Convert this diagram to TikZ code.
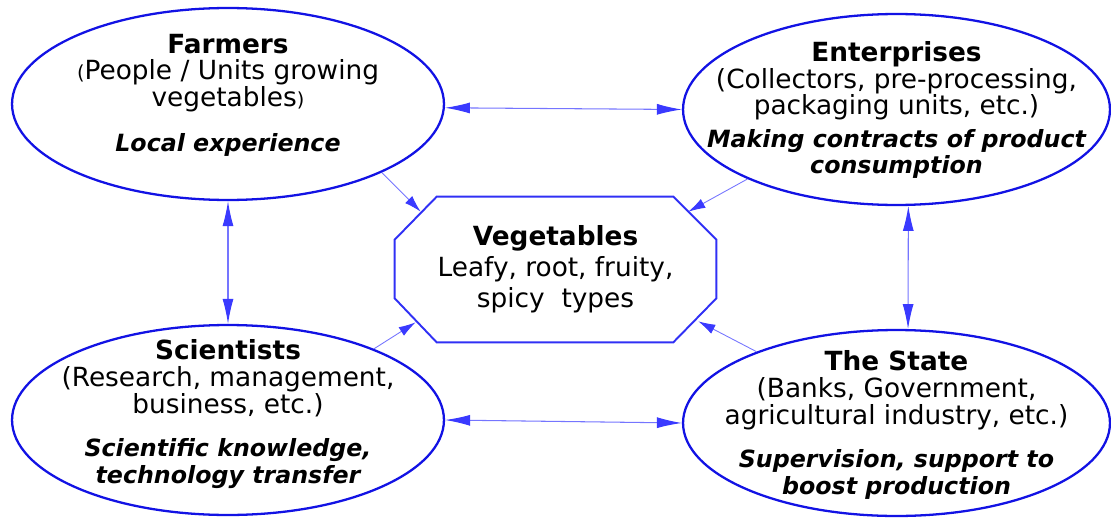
\documentclass[tikz,border=0pt]{standalone}
\usepackage{fontspec}
\setmainfont{DejaVu Sans}
\usepackage{tikz}
\usetikzlibrary{arrows.meta,positioning,calc,shapes.geometric}
\definecolor{rim}{HTML}{1212E4}
\definecolor{oc}{HTML}{3030F5}
\definecolor{lk}{HTML}{3A3AFF}
\newcommand{\Hd}[1]{\textbf{#1}}
\newcommand{\Em}[1]{{\fontsize{13.5}{14.5}\selectfont\bfseries\itshape #1}}
\newcommand{\Sp}[1]{{\fontsize{11}{11}\selectfont #1}}

\begin{document}
\begin{tikzpicture}[x=0.02cm,y=-0.02cm,
  actor/.style={ellipse,draw=rim,line width=1.3pt,inner sep=0pt},
  body/.style={align=center,font=\fontsize{15}{15.3}\selectfont,inner sep=0pt},
  link/.style={draw=lk!70,line width=0.6pt,
    {Latex[length=0.5cm,width=0.22cm,color=lk]}-{Latex[length=0.5cm,width=0.22cm,color=lk]}},
  feed/.style={draw=lk!70,line width=0.5pt,-{Latex[length=0.34cm,width=0.2cm,color=lk]}}]
  \useasboundingbox (0,0) rectangle (1111,517);

  % the four actors
  \node[actor,minimum width=8.64cm,minimum height=3.84cm] (farm) at (228,104) {};
  \node[actor,minimum width=8.54cm,minimum height=3.82cm] (ent) at (896.5,109.5) {};
  \node[actor,minimum width=8.64cm,minimum height=3.8cm] (sci) at (228,420) {};
  \node[actor,minimum width=8.54cm,minimum height=3.72cm] (state) at (896.5,423) {};

  \node[body] (farm-t) at (228,95) {\Hd{Farmers}\\\Sp{(}People / Units growing\\vegetables\Sp{)}\\[10pt]\Em{Local experience}};
  \node[body] (ent-t) at (896.5,110) {\Hd{Enterprises}\\(Collectors, pre-processing,\\packaging units, etc.)\\[3pt]\Em{Making contracts of product}\\\Em{consumption}};
  \node[body] (sci-t) at (228,414) {\Hd{Scientists}\\(Research, management,\\business, etc.)\\[9pt]\Em{Scientific knowledge,}\\\Em{technology transfer}};
  \node[body] (state-t) at (896.5,425) {\Hd{The State}\\(Banks, Government,\\agricultural industry, etc.)\\[9pt]\Em{Supervision, support to}\\\Em{boost production}};

  % centre octagon
  \node[body,font=\fontsize{15}{17.6}\selectfont,minimum width=6.42cm,minimum height=2.9cm] (veg) at (555.5,269.5)
    {\Hd{Vegetables}\\Leafy, root, fruity,\\spicy\ \ types};
  \draw[oc,line width=1.1pt] ($(veg.north west)+(42,0)$) -- ($(veg.north east)+(-43,0)$)
    -- ($(veg.north east)+(0,43)$) -- ($(veg.south east)+(0,-44)$)
    -- ($(veg.south east)+(-43,0)$) -- ($(veg.south west)+(42,0)$)
    -- ($(veg.south west)+(0,-44)$) -- ($(veg.north west)+(0,43)$) -- cycle;
  \coordinate (veg-nw) at ($(veg.north west)+(26,15)$);
  \coordinate (veg-ne) at ($(veg.north east)+(-28,15)$);
  \coordinate (veg-sw) at ($(veg.south west)+(21,-20)$);
  \coordinate (veg-se) at ($(veg.south east)+(-18,-21)$);

  \draw[link] (farm.-1.3) -- (ent.west);
  \draw[link] (sci.-0.8) -- (state.west);
  \draw[link] (farm.south) -- (sci.north);
  \draw[link] (ent.-83) -- (state.83);

  \draw[feed] (farm.-24.4) -- (veg-nw);
  \draw[feed] (ent.-155) -- (veg-ne);
  \draw[feed] (sci.26.6) -- (veg-sw);
  \draw[feed] (state.153.2) -- (veg-se);
\end{tikzpicture}
\end{document}
